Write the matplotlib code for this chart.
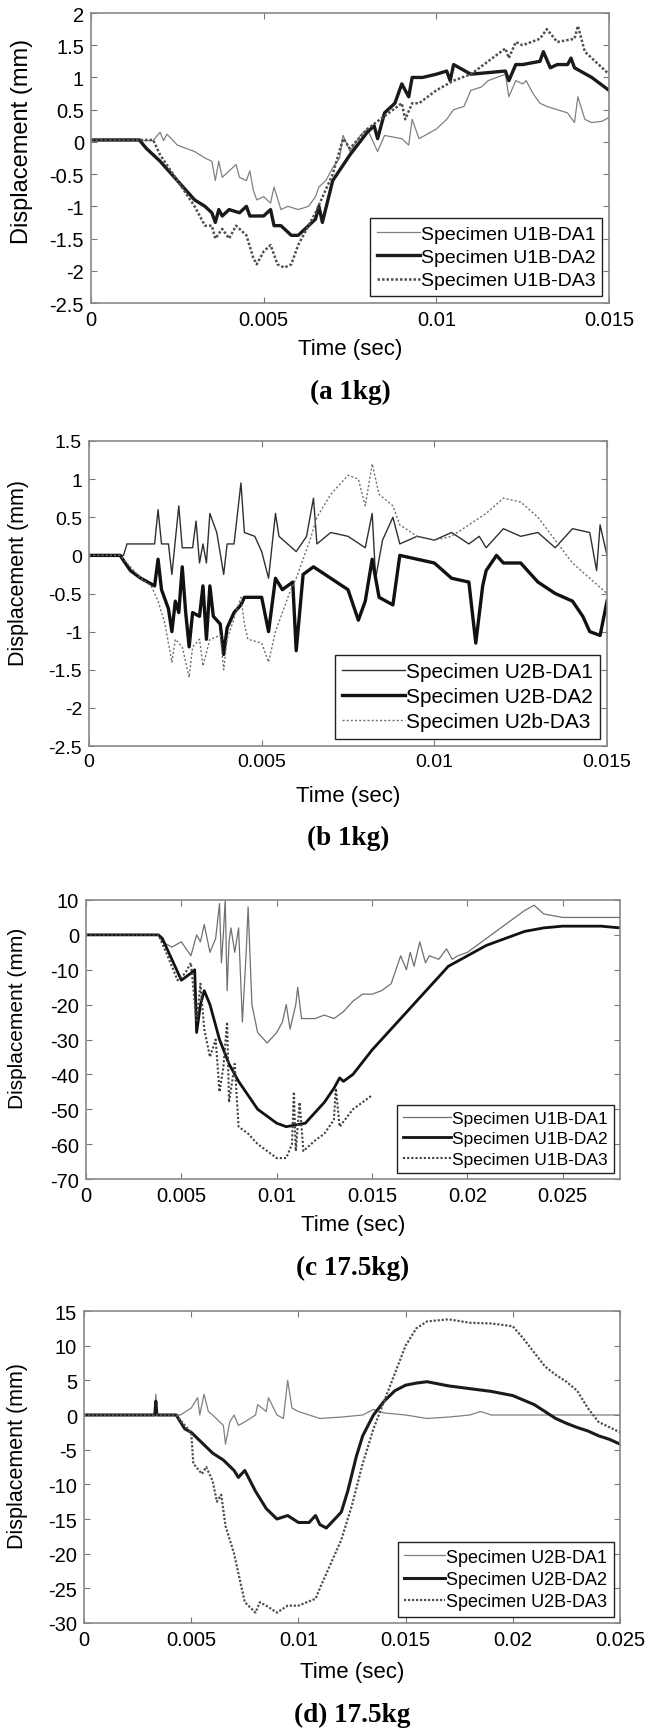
import matplotlib
matplotlib.use("Agg")
import matplotlib.pyplot as plt

plt.rcParams['font.family'] = ['Liberation Sans', 'DejaVu Sans']

# ---------------- panel (a) 1kg ----------------
a_t1 = [0, 0.0018, 0.002, 0.0021, 0.0022, 0.0025, 0.003, 0.0033, 0.0035, 0.0036, 0.0037, 0.0038, 0.004,
        0.0042, 0.0043, 0.0045, 0.0046, 0.0047, 0.0048, 0.005, 0.0052, 0.0053, 0.0055, 0.0057, 0.006,
        0.0063, 0.0065, 0.0066, 0.0068, 0.007, 0.0072, 0.0073, 0.0075, 0.0078, 0.008, 0.0083, 0.0085,
        0.009, 0.0092, 0.0093, 0.0095, 0.01, 0.0103, 0.0105, 0.0108, 0.011, 0.0113, 0.0115, 0.012,
        0.0121, 0.0123, 0.0125, 0.0126, 0.0128, 0.013, 0.0132, 0.0135, 0.0138, 0.014, 0.0141, 0.0143,
        0.0145, 0.0148, 0.015]
a_y1 = [0.02, 0.02, 0.15, 0.02, 0.12, -0.05, -0.15, -0.25, -0.3, -0.6, -0.3, -0.55, -0.45,
        -0.35, -0.55, -0.6, -0.45, -0.75, -0.9, -0.85, -0.95, -0.7, -1.05, -1.0, -1.05,
        -1.0, -0.85, -0.7, -0.6, -0.4, -0.25, 0.1, -0.15, 0.1, 0.2, -0.15, 0.1,
        0.05, -0.05, 0.35, 0.05, 0.2, 0.35, 0.5, 0.55, 0.8, 0.85, 0.95, 1.05,
        0.7, 0.95, 0.9, 0.95, 0.75, 0.6, 0.55, 0.5, 0.45, 0.3, 0.7, 0.35,
        0.3, 0.32, 0.38]

a_t2 = [0, 0.0014, 0.0016, 0.0018, 0.002, 0.0025, 0.003, 0.0033, 0.0035, 0.0036, 0.0037, 0.0038, 0.004,
        0.0043, 0.0045, 0.0046, 0.005, 0.0052, 0.0053, 0.0055, 0.0058, 0.006, 0.0062, 0.0065, 0.0066,
        0.0067, 0.007, 0.0075, 0.008, 0.0082, 0.0083, 0.0085, 0.0088, 0.009, 0.0092, 0.0093, 0.0096,
        0.01, 0.0103, 0.0104, 0.0105, 0.011, 0.012, 0.0121, 0.0123, 0.0125, 0.013, 0.0131, 0.0133,
        0.0135, 0.0138, 0.0139, 0.014, 0.0145, 0.015]
a_y2 = [0.03, 0.03, -0.1, -0.2, -0.3, -0.6, -0.9, -1.0, -1.1, -1.25, -1.05, -1.15, -1.05,
        -1.1, -1.0, -1.15, -1.15, -1.05, -1.3, -1.3, -1.45, -1.45, -1.35, -1.2, -1.0,
        -1.25, -0.6, -0.2, 0.15, 0.25, 0.05, 0.45, 0.6, 0.9, 0.7, 1.0, 1.0,
        1.05, 1.1, 0.95, 1.2, 1.05, 1.1, 0.95, 1.2, 1.2, 1.25, 1.4, 1.15,
        1.2, 1.2, 1.3, 1.15, 1.0, 0.8]

a_t3 = [0, 0.0018, 0.002, 0.0025, 0.003, 0.0033, 0.0035, 0.0036, 0.0038, 0.004, 0.0042, 0.0045, 0.0047,
        0.0048, 0.005, 0.0052, 0.0054, 0.0056, 0.0058, 0.006, 0.0065, 0.007, 0.0073, 0.0075, 0.008,
        0.0085, 0.009, 0.0091, 0.0093, 0.0095, 0.01, 0.0105, 0.011, 0.0115, 0.012, 0.0121, 0.0123,
        0.0125, 0.013, 0.0132, 0.0135, 0.014, 0.0141, 0.0143, 0.0145, 0.015]
a_y3 = [0.03, 0.03, -0.2, -0.6, -1.0, -1.3, -1.3, -1.5, -1.35, -1.5, -1.3, -1.45, -1.8,
        -1.9, -1.7, -1.6, -1.9, -1.95, -1.9, -1.6, -1.1, -0.5, 0.05, -0.1, 0.2,
        0.4, 0.6, 0.35, 0.6, 0.6, 0.8, 0.95, 1.05, 1.25, 1.45, 1.3, 1.55,
        1.5, 1.6, 1.75, 1.55, 1.6, 1.8, 1.4, 1.3, 1.05]

# ---------------- panel (b) 1kg ----------------
b_t1 = [0, 0.001, 0.0011, 0.0019, 0.002, 0.0021, 0.0023, 0.0024, 0.0026, 0.0027, 0.003, 0.0031, 0.0032,
        0.0033, 0.0034, 0.0035, 0.0037, 0.0039, 0.004, 0.0042, 0.0044, 0.0045, 0.0048, 0.005, 0.0052,
        0.0054, 0.0055, 0.006, 0.0063, 0.0065, 0.0066, 0.007, 0.0075, 0.008, 0.0082, 0.0083, 0.0085,
        0.0088, 0.009, 0.0095, 0.01, 0.0105, 0.011, 0.0113, 0.0115, 0.012, 0.0125, 0.013, 0.0135,
        0.014, 0.0145, 0.0147, 0.0148, 0.015]
b_y1 = [0, 0, 0.15, 0.15, 0.6, 0.15, 0.15, -0.25, 0.65, 0.1, 0.1, 0.45, -0.1,
        0.15, -0.1, 0.55, 0.3, -0.25, 0.15, 0.15, 0.95, 0.3, 0.25, 0.05, -0.3,
        0.55, 0.25, 0.05, 0.25, 0.75, 0.15, 0.3, 0.25, 0.1, 0.55, -0.3, 0.2,
        0.5, 0.15, 0.25, 0.2, 0.3, 0.15, 0.25, 0.1, 0.35, 0.25, 0.3, 0.1,
        0.35, 0.3, -0.2, 0.4, 0.0]

b_t2 = [0, 0.0009, 0.0012, 0.0015, 0.0019, 0.002, 0.0021, 0.0023, 0.0024, 0.0025, 0.0026, 0.0027, 0.0028,
        0.0029, 0.003, 0.0032, 0.0033, 0.0034, 0.0035, 0.0036, 0.0038, 0.0039, 0.004, 0.0042, 0.0044,
        0.0045, 0.005, 0.0052, 0.0054, 0.0056, 0.0059, 0.006, 0.0062, 0.0065, 0.007, 0.0075, 0.0078,
        0.008, 0.0082, 0.0084, 0.0088, 0.009, 0.0095, 0.01, 0.0105, 0.011, 0.0112, 0.0114, 0.0115,
        0.0118, 0.012, 0.0125, 0.013, 0.0135, 0.014, 0.0143, 0.0145, 0.0148, 0.015]
b_y2 = [0, 0, -0.2, -0.3, -0.4, -0.05, -0.45, -0.7, -1.0, -0.6, -0.75, -0.15, -0.75,
        -1.2, -0.75, -0.8, -0.4, -1.1, -0.4, -0.8, -0.9, -1.3, -0.95, -0.75, -0.65,
        -0.55, -0.55, -1.0, -0.3, -0.45, -0.35, -1.25, -0.25, -0.15, -0.3, -0.45, -0.85,
        -0.6, -0.05, -0.55, -0.65, 0.0, -0.05, -0.1, -0.3, -0.35, -1.15, -0.4, -0.2,
        0.0, -0.1, -0.1, -0.35, -0.5, -0.6, -0.8, -1.0, -1.05, -0.6]

b_t3 = [0, 0.0009, 0.0015, 0.0018, 0.002, 0.0022, 0.0024, 0.0025, 0.0027, 0.0029, 0.003, 0.0032, 0.0033,
        0.0035, 0.0038, 0.0039, 0.004, 0.0044, 0.0045, 0.0046, 0.005, 0.0052, 0.0054, 0.0058, 0.006,
        0.0064, 0.0066, 0.007, 0.0075, 0.0078, 0.008, 0.0082, 0.0084, 0.0088, 0.009, 0.0095, 0.01,
        0.0105, 0.011, 0.0115, 0.012, 0.0125, 0.013, 0.0135, 0.014, 0.0145, 0.015]
b_y3 = [0, 0, -0.3, -0.4, -0.6, -0.9, -1.4, -1.1, -1.2, -1.6, -1.2, -1.1, -1.45,
        -1.1, -1.05, -1.5, -1.1, -0.55, -0.9, -1.1, -1.15, -1.4, -1.0, -0.5, -0.3,
        0.2, 0.5, 0.8, 1.05, 1.0, 0.65, 1.2, 0.8, 0.65, 0.4, 0.25, 0.2,
        0.25, 0.4, 0.55, 0.75, 0.7, 0.5, 0.2, -0.1, -0.3, -0.5]

# ---------------- panel (c) 17.5kg ----------------
c_t1 = [0, 0.0038, 0.004, 0.0045, 0.005, 0.0055, 0.0058, 0.006, 0.0062, 0.0065, 0.0068, 0.007, 0.0071,
        0.0072, 0.0073, 0.0074, 0.0075, 0.0076, 0.0078, 0.008, 0.0082, 0.0084, 0.0085, 0.0087, 0.009,
        0.0095, 0.01, 0.0103, 0.0105, 0.0107, 0.011, 0.0111, 0.0113, 0.012, 0.0125, 0.013, 0.0135,
        0.014, 0.0145, 0.015, 0.0155, 0.016, 0.0165, 0.0168, 0.017, 0.0172, 0.0175, 0.0178, 0.018,
        0.0185, 0.0189, 0.0192, 0.0195, 0.02, 0.0205, 0.021, 0.0215, 0.022, 0.0225, 0.023, 0.0235,
        0.024, 0.025, 0.026, 0.027, 0.028]
c_y1 = [0, 0, -2, -3.5, -2, -6, 0, -2, 3, -5, -1, 9, -8,
        0, 10, -16, -2, 2, -5, 2, -25, -5, 8, -20, -28,
        -31, -28, -25, -20, -27, -20, -15, -24, -24, -23, -24, -22,
        -19, -17, -17, -16, -14, -6, -10, -5, -9, -2, -8, -6,
        -7, -4, -7, -6, -5, -3, -1, 1, 3, 5, 7, 8.5,
        6, 5, 5, 5, 5]

c_t2 = [0, 0.0038, 0.004, 0.0045, 0.005, 0.0055, 0.0057, 0.0058, 0.006, 0.0062, 0.0065, 0.007, 0.0075,
        0.008, 0.0085, 0.009, 0.0095, 0.01, 0.0105, 0.011, 0.0115, 0.012, 0.0125, 0.013, 0.0133,
        0.0135, 0.014, 0.015, 0.016, 0.017, 0.018, 0.019, 0.02, 0.021, 0.022, 0.023, 0.024, 0.025,
        0.026, 0.027, 0.028]
c_y2 = [0, 0, -1, -7, -13, -11, -10, -28, -20, -16, -20, -30, -37,
        -42, -46, -50, -52, -54, -55, -54.5, -54, -51, -48, -44, -41,
        -42, -40, -33, -27, -21, -15, -9, -6, -3, -1, 1, 2, 2.5,
        2.5, 2.5, 2]

c_t3 = [0, 0.0038, 0.0042, 0.0048, 0.0052, 0.0055, 0.0058, 0.006, 0.0062, 0.0065, 0.0068, 0.007, 0.0072,
        0.0074, 0.0075, 0.0078, 0.008, 0.0085, 0.009, 0.0095, 0.01, 0.0105, 0.0108, 0.0109, 0.011,
        0.0112, 0.0114, 0.012, 0.0125, 0.013, 0.0131, 0.0133, 0.014, 0.0145, 0.015]
c_y3 = [0, 0, -5, -13, -11, -8, -25, -14, -27, -35, -30, -45, -38,
        -25, -48, -37, -55, -57, -60, -62, -64, -64, -60, -45, -62,
        -48, -62, -59, -57, -53, -44, -55, -50, -48, -46]

# ---------------- panel (d) 17.5kg ----------------
d_t1 = [0, 0.0033, 0.00335, 0.0034, 0.0045, 0.005, 0.0053, 0.0054, 0.0056, 0.0058, 0.006, 0.0065, 0.0066,
        0.0068, 0.007, 0.0072, 0.0075, 0.008, 0.0081, 0.0085, 0.0086, 0.009, 0.0093, 0.0095, 0.0097,
        0.01, 0.0105, 0.011, 0.012, 0.013, 0.0135, 0.014, 0.015, 0.016, 0.017, 0.018, 0.0185, 0.019,
        0.02, 0.022, 0.025]
d_y1 = [0, 0, 3, 0, 0, 1, 2.5, 0, 3, 0.5, 0, -1.5, -4.2,
        -1, 0, -1.5, -1, 0, 1.5, 0.5, 2.5, 0, -0.5, 5, 1,
        0.5, 0, -0.5, -0.3, 0, 0.8, 0.3, 0, -0.5, -0.3, 0, 0.5, 0,
        0, 0, 0]

d_t2 = [0, 0.0033, 0.00335, 0.0034, 0.0043, 0.0047, 0.005, 0.0055, 0.006, 0.0065, 0.007, 0.0072, 0.0075,
        0.008, 0.0085, 0.009, 0.0095, 0.01, 0.0105, 0.0108, 0.011, 0.0113, 0.0117, 0.012, 0.0123,
        0.0127, 0.013, 0.0135, 0.014, 0.0145, 0.015, 0.0155, 0.016, 0.017, 0.018, 0.019, 0.02, 0.021,
        0.0215, 0.022, 0.0225, 0.023, 0.0235, 0.024, 0.0245, 0.025]
d_y2 = [0, 0, 2, 0, 0, -2, -2.5, -4, -5.5, -6.5, -8, -9, -8,
        -11, -13.5, -15, -14.5, -15.5, -15.5, -14.5, -15.8, -16.3, -15, -14, -11,
        -6, -3, 0, 2, 3.5, 4.3, 4.6, 4.8, 4.2, 3.8, 3.4, 2.8, 1.5,
        0.5, -0.5, -1.2, -1.8, -2.3, -3, -3.5, -4.2]

d_t3 = [0, 0.0043, 0.0047, 0.005, 0.0051, 0.0055, 0.0057, 0.006, 0.0062, 0.0064, 0.0066, 0.007, 0.0075,
        0.008, 0.0082, 0.0085, 0.009, 0.0095, 0.01, 0.0108, 0.011, 0.012, 0.0125, 0.013, 0.0135,
        0.014, 0.0145, 0.015, 0.0155, 0.016, 0.017, 0.018, 0.019, 0.02, 0.0205, 0.021, 0.0215, 0.022,
        0.0225, 0.023, 0.0235, 0.024, 0.025]
d_y3 = [0, 0, -1.5, -2.5, -7, -8.5, -7.5, -9.5, -12.5, -11.5, -16, -20, -27,
        -28.5, -27, -27.5, -28.5, -27.5, -27.5, -26.5, -25, -18, -13, -7, -2,
        2, 6, 10, 12.5, 13.5, 13.8, 13.3, 13.2, 12.8, 11, 9, 7, 5.8,
        4.8, 3.5, 1, -1, -2.5]

W, H = 645, 1733
fig = plt.figure(figsize=(W / 100, H / 100), dpi=100)


def rect(l, t, r, b):
    return [l / W, 1 - b / H, (r - l) / W, (b - t) / H]


panels = [
    dict(box=(91, 14, 609, 304), xlim=(0, 0.015), ylim=(-2.5, 2),
         xt=[0, 0.005, 0.01, 0.015], yt=[2, 1.5, 1, 0.5, 0, -0.5, -1, -1.5, -2, -2.5],
         series=[(a_t1, a_y1), (a_t2, a_y2), (a_t3, a_y3)],
         names=['Specimen U1B-DA1', 'Specimen U1B-DA2', 'Specimen U1B-DA3'],
         styles=[dict(color='#808080', lw=0.9), dict(color='#1a1a1a', lw=2.4),
                 dict(color='#505050', lw=1.8, ls=(0, (1, 0.8)))],
         xl_y=349, cap='(a 1kg)', cap_y=392, tfs=14.5, yfs=17, yl=(22, 0.44),
         lfs=14, hl=2.2),
    dict(box=(89, 442, 607, 747), xlim=(0, 0.015), ylim=(-2.5, 1.5),
         xt=[0, 0.005, 0.01, 0.015], yt=[1.5, 1, 0.5, 0, -0.5, -1, -1.5, -2, -2.5],
         series=[(b_t1, b_y1), (b_t2, b_y2), (b_t3, b_y3)],
         names=['Specimen U2B-DA1', 'Specimen U2B-DA2', 'Specimen U2b-DA3'],
         styles=[dict(color='#303030', lw=1.0), dict(color='#111111', lw=2.4),
                 dict(color='#707070', lw=1.0, ls=(0, (1.5, 1.5)))],
         xl_y=797, cap='(b 1kg)', cap_y=838, tfs=14, yfs=15.5, yl=(19, 0.43),
         lfs=15, hl=3.0),
    dict(box=(86, 901, 620, 1180), xlim=(0, 0.028), ylim=(-70, 10),
         xt=[0, 0.005, 0.01, 0.015, 0.02, 0.025], yt=[10, 0, -10, -20, -30, -40, -50, -60, -70],
         series=[(c_t1, c_y1), (c_t2, c_y2), (c_t3, c_y3)],
         names=['Specimen U1B-DA1', 'Specimen U1B-DA2', 'Specimen U1B-DA3'],
         styles=[dict(color='#707070', lw=0.9), dict(color='#111111', lw=2.0),
                 dict(color='#404040', lw=1.5, ls=(0, (1, 1)))],
         xl_y=1226, cap='(c 17.5kg)', cap_y=1268, tfs=14.5, yfs=15, yl=(18, 0.42),
         lfs=12.5, hl=2.8),
    dict(box=(84, 1312, 620, 1624), xlim=(0, 0.025), ylim=(-30, 15),
         xt=[0, 0.005, 0.01, 0.015, 0.02, 0.025], yt=[15, 10, 5, 0, -5, -10, -15, -20, -25, -30],
         series=[(d_t1, d_y1), (d_t2, d_y2), (d_t3, d_y3)],
         names=['Specimen U2B-DA1', 'Specimen U2B-DA2', 'Specimen U2B-DA3'],
         styles=[dict(color='#808080', lw=0.9), dict(color='#1a1a1a', lw=2.2),
                 dict(color='#505050', lw=1.6, ls=(0, (1, 0.8)))],
         xl_y=1673, cap='(d) 17.5kg', cap_y=1715, tfs=14.5, yfs=15.5, yl=(18, 0.46),
         lfs=13, hl=2.3),
]

for p in panels:
    ax = fig.add_axes(rect(*p['box']))
    for (t, y), name, st in zip(p['series'], p['names'], p['styles']):
        ax.plot(t, y, label=name, **st)
    ax.set_xlim(*p['xlim'])
    ax.set_ylim(*p['ylim'])
    ax.set_xticks(p['xt'])
    ax.set_xticklabels([f"{v:g}" for v in p['xt']])
    ax.set_yticks(p['yt'])
    ax.set_yticklabels([f"{v:g}" for v in p['yt']])
    ax.tick_params(direction='in', length=4, top=True, right=True, color='#777777',
                   labelsize=p['tfs'], pad=5)
    for s in ax.spines.values():
        s.set_color('#888888')
        s.set_linewidth(1.2)
    l, t, r, b = p['box']
    # y label sits a little above the axis centre in the original
    fig.text(p['yl'][0] / W, 1 - (t + p['yl'][1] * (b - t)) / H, 'Displacement (mm)',
             rotation=90, ha='center', va='center', fontsize=p['yfs'])
    cx = (l + r) / 2 / W
    fig.text(cx, 1 - p['xl_y'] / H, 'Time (sec)', ha='center', va='center', fontsize=16)
    fig.text(cx, 1 - p['cap_y'] / H, p['cap'], ha='center', va='center',
             fontsize=19.5, fontweight='bold', family='Liberation Serif')
    leg = ax.legend(loc='lower right', fontsize=p['lfs'], fancybox=False, framealpha=1,
                    edgecolor='#222222', handlelength=p['hl'], handletextpad=0.05,
                    borderaxespad=0.35, labelspacing=0.3, borderpad=0.35)
    leg.get_frame().set_linewidth(1.0)

fig.savefig('out.png', dpi=100)
